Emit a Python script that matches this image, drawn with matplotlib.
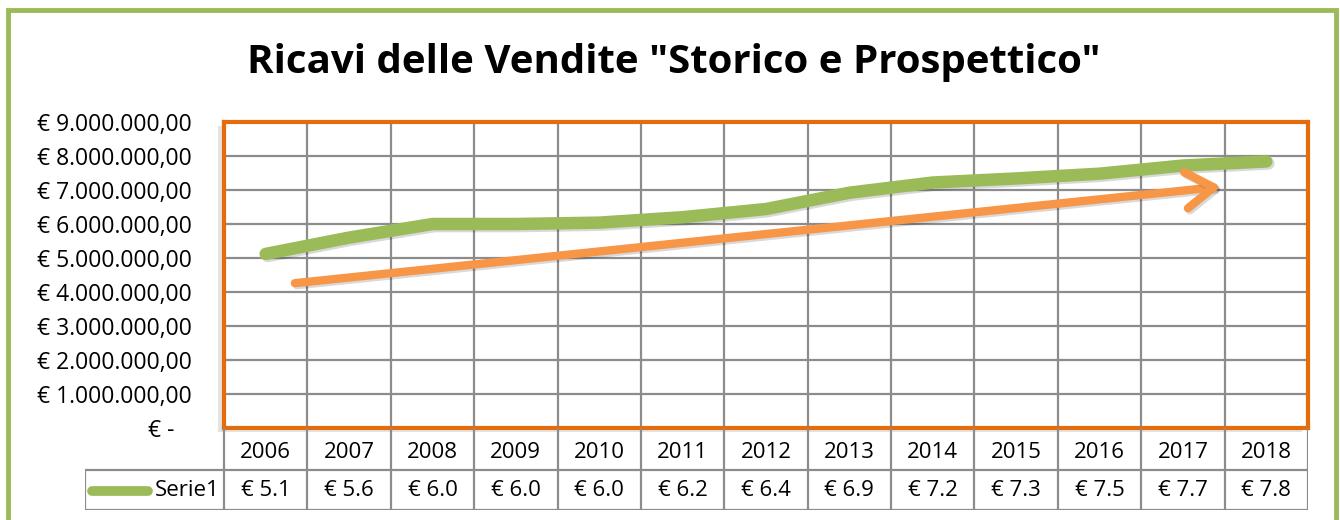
import matplotlib.pyplot as plt
import matplotlib.patches as patches
import matplotlib.patheffects as pe
import numpy as np

anni = ['2006', '2007', '2008', '2009', '2010', '2011', '2012',
        '2013', '2014', '2015', '2016', '2017', '2018']
ricavi = [5.12, 5.6, 6.0, 6.0, 6.04, 6.2, 6.44, 6.92, 7.22, 7.34, 7.48, 7.72, 7.84]  # milioni di euro
serie = 'Serie1'
titolo = 'Ricavi delle Vendite "Storico e Prospettico"'
# freccia di tendenza (indice anno, milioni)
freccia_da = (0.35, 4.26)
freccia_a = (11.46, 7.1)

verde = '#9BBB59'
arancio = '#F79646'
arancio_bordo = '#E46C0A'
griglia = '#8C8C8C'

plt.rcParams['font.family'] = ['Open Sans', 'DejaVu Sans']
plt.rcParams['ytick.major.pad'] = 23
plt.rcParams['ytick.major.size'] = 0
plt.rcParams['xtick.major.size'] = 0
plt.rcParams['ytick.labelsize'] = 16.5

W, H = 1340, 520
fig = plt.figure(figsize=(W / 100, H / 100), dpi=100)

# cornice verde esterna
fig.patches.append(patches.Rectangle((8 / W, -0.05), (1336 - 8) / W, 1.05 - 10 / H,
                                     transform=fig.transFigure, fill=False,
                                     edgecolor=verde, linewidth=3.5, zorder=0))

fig.text(674 / W, 1 - 62 / H, titolo, ha='center', va='center',
         fontsize=29, fontweight='bold')

x0, x1, y0, y1 = 224, 1308, 122, 428
ax = fig.add_axes([x0 / W, 1 - y1 / H, (x1 - x0) / W, (y1 - y0) / H])
ax.set_zorder(2)

# ombra area del grafico
fig.patches.append(patches.Rectangle(((x0 - 6) / W, 1 - (y1 + 4) / H), (x1 - x0) / W, (y1 - y0) / H,
                                     transform=fig.transFigure, facecolor='#b0b0b0',
                                     edgecolor='none', alpha=0.35, zorder=-1))

x = np.arange(len(anni))
y = np.array(ricavi) * 1e6

ax.set_xlim(-0.5, len(anni) - 0.5)
ax.set_ylim(0, 9e6)
ax.set_yticks(np.arange(0, 9.01e6, 1e6))
ax.set_xticks(np.arange(-0.5, len(anni)), minor=False)
ax.set_xticklabels([])


def eur(v, pos=None):
    if v == 0:
        return '€ -   '
    s = f'{v:,.2f}'.replace(',', 'X').replace('.', ',').replace('X', '.')
    return '€ ' + s


ax.yaxis.set_major_formatter(plt.FuncFormatter(eur))
ax.grid(True, color=griglia, linewidth=1.6)
ax.set_axisbelow(True)
for s in ax.spines.values():
    s.set_color(arancio_bordo)
    s.set_linewidth(3)

ax.plot(x, y, color=verde, linewidth=9, solid_capstyle='round', solid_joinstyle='round',
        path_effects=[pe.SimpleLineShadow(offset=(1.5, -1.5), alpha=0.15), pe.Normal()], zorder=3)

ax.annotate('', xy=(freccia_a[0], freccia_a[1] * 1e6), xytext=(freccia_da[0], freccia_da[1] * 1e6),
            arrowprops=dict(arrowstyle='->, head_length=1.0, head_width=0.65', color=arancio,
                            lw=6, mutation_scale=20, capstyle='round', shrinkA=0, shrinkB=0,
                            path_effects=[pe.SimpleLineShadow(offset=(1.5, -1.5), alpha=0.15), pe.Normal()]),
            zorder=4)

# tabella dati
lx = 85
tb = fig.add_axes([lx / W, 1 - 510 / H, (x1 - lx) / W, (510 - y1) / H])
tb.set_zorder(2)
col = (x1 - x0) / len(anni)
extra = (x0 - lx) / col
tb.set_xlim(-0.5 - extra, len(anni) - 0.5)
tb.set_ylim(510, y1)
tb.axis('off')
lc = dict(color=griglia, linewidth=1.6)
for i in range(len(anni) + 1):
    tb.plot([i - 0.5, i - 0.5], [y1, 510], **lc)
tb.plot([-0.5 - extra, -0.5 - extra], [470, 510], **lc)
tb.plot([-0.5 - extra, len(anni) - 0.5], [470, 470], **lc)
tb.plot([-0.5 - extra, len(anni) - 0.5], [510, 510], **lc)
for i, a in enumerate(anni):
    tb.text(i, 452, a, ha='center', va='center', fontsize=16)
    tb.text(i, 491, f'€ {ricavi[i]:.1f}', ha='center', va='center', fontsize=16)
tb.plot([-0.5 - extra + 0.08, -0.5 - extra + 0.75], [491, 491], color=verde, linewidth=7,
        solid_capstyle='round')
tb.text(-0.55, 491, serie, ha='right', va='center', fontsize=16)

fig.savefig('out.png', dpi=100)
